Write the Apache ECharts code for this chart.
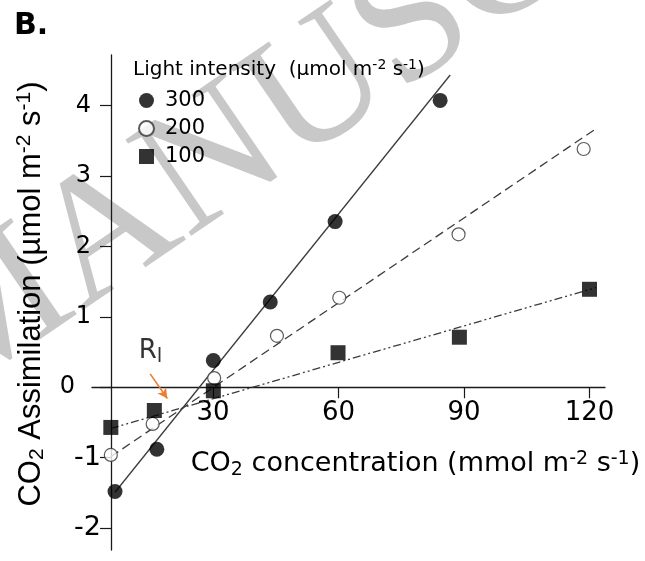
<!DOCTYPE html>
<html><head><meta charset="utf-8">
<script src="https://cdn.jsdelivr.net/npm/echarts@6/dist/echarts.min.js"></script>
<style>html,body{margin:0;padding:0;background:#fff}#c{width:645px;height:561px}</style>
</head><body><div id="c"></div>
<script>
// ---- data ----
const legendNames = ['300', '200', '100'];
const co2_300 = [6.6, 16.6, 30.1, 43.7, 59.2, 84.3];
const asm_300 = [-1.48, -0.88, 0.38, 1.21, 2.35, 4.07];
const co2_200 = [5.6, 15.6, 30.3, 45.3, 60.2, 88.7, 118.6];
const asm_200 = [-0.96, -0.52, 0.13, 0.73, 1.27, 2.17, 3.38];
const co2_100 = [5.6, 16.0, 30.1, 59.9, 88.9, 120.0];
const asm_100 = [-0.57, -0.33, -0.05, 0.49, 0.71, 1.39];
// regression lines (end points)
const fit_300 = [[6.6, -1.49], [86.7, 4.43]];
const fit_200 = [[5.6, -0.985], [121.1, 3.65]];
const fit_100 = [[5.6, -0.585], [121.6, 1.415]];
// R_l annotation
const rlLabelPos = [15.1, 0.51];
const rlArrow = [[15.0, 0.19], [19.1, -0.16]];
const xTicks = [30, 60, 90, 120];
const yTicks = [-2, -1, 0, 1, 2, 3, 4];

const zip = (xs, ys) => xs.map((x, i) => [x, ys[i]]);
const F = 'DejaVu Sans';
const FL = 'Liberation Sans';
const lineColor = '#3c3c3c';
const yMin = -2.309, yMax = 4.714;
const gridTop = 55, gridBottom = 11, H = 561;
// put the x axis line at y = 0 of the y scale
const plotH = H - gridTop - gridBottom;
const xAxisOffset = -plotH * (0 - yMin) / (yMax - yMin);

const chart = echarts.init(document.getElementById('c'), null, {renderer: 'canvas'});
chart.setOption({
  animation: false,
  backgroundColor: '#fff',
  graphic: [{
    type: 'text', x: -76, y: 362, rotation: 0.6, z: -10, silent: true,
    style: {text: 'MANUSCRIPT', fontFamily: 'Liberation Serif', fontSize: 178,
            fill: '#c8c8c8', textAlign: 'left', textVerticalAlign: 'middle'}
  }],
  title: [
    {text: 'B.', left: 14, top: 11, padding: 0,
     textStyle: {fontFamily: F, fontWeight: 'bold', fontSize: 30, lineHeight: 30, color: '#000'}},
    {text: 'Light intensity  (µmol m{sup|-2} s{sup|-1})', left: 133, top: 58, padding: 0,
     textStyle: {fontFamily: F, fontWeight: 'normal', fontSize: 20, lineHeight: 24, color: '#000',
       rich: {sup: {fontFamily: F, fontSize: 14, lineHeight: 13, verticalAlign: 'top', color: '#000'}}}}
  ],
  legend: {
    data: [
      {name: '300', icon: 'circle'},
      {name: '200', icon: 'circle'},
      {name: '100', icon: 'rect'}
    ],
    orient: 'vertical', left: 138, top: 90, padding: 0,
    itemWidth: 15, itemHeight: 15, itemGap: 7,
    textStyle: {fontFamily: F, fontSize: 21, lineHeight: 21, color: '#000', padding: [0, 0, 0, 6]}
  },
  grid: {left: 92, right: 40, top: gridTop, bottom: gridBottom, containLabel: false, outerBoundsMode: 'none'},
  xAxis: {
    type: 'value', min: 1.1, max: 123.7, position: 'bottom', offset: xAxisOffset,
    name: 'CO{sub|2} concentration (mmol m{sup|-2} s{sup|-1})',
    nameLocation: 'middle', nameGap: 62,
    nameTextStyle: {fontFamily: F, fontSize: 27, lineHeight: 30, color: '#000', padding: [0, 0, 0, 134],
      rich: {sub: {fontFamily: F, fontSize: 19, lineHeight: 18, verticalAlign: 'bottom', color: '#000'},
             sup: {fontFamily: F, fontSize: 19, lineHeight: 16, verticalAlign: 'top', color: '#000'}}},
    axisLine: {onZero: false, lineStyle: {color: '#1a1a1a', width: 1.3}},
    axisTick: {show: true, length: 11, customValues: xTicks, lineStyle: {color: '#1a1a1a', width: 1.2}},
    axisLabel: {show: true, customValues: xTicks, margin: 13, fontFamily: F, fontSize: 26, color: '#000'},
    splitLine: {show: false}
  },
  yAxis: {
    type: 'value', min: yMin, max: yMax, offset: -19,
    name: 'CO{sub|2} Assimilation (µmol m{sup|-2} s{sup|-1})',
    nameLocation: 'middle', nameGap: 63, nameRotate: 90,
    nameTextStyle: {fontFamily: FL, fontSize: 31, lineHeight: 34, color: '#000', padding: [0, 0, 0, 17],
      rich: {sub: {fontFamily: FL, fontSize: 21, lineHeight: 20, verticalAlign: 'bottom', color: '#000'},
             sup: {fontFamily: FL, fontSize: 21, lineHeight: 18, verticalAlign: 'top', color: '#000'}}},
    axisLine: {show: true, onZero: false, lineStyle: {color: '#1a1a1a', width: 1.3}},
    axisTick: {show: true, length: 11, customValues: yTicks, lineStyle: {color: '#1a1a1a', width: 1.2}},
    axisLabel: {customValues: yTicks, margin: 10, color: '#000',
      formatter: v => v > 0 ? '{p|' + v + '}' : (v === 0 ? '{z|0}' : '{n|' + v + '}'),
      rich: {
        p: {fontFamily: F, fontSize: 24, color: '#000', padding: [0, 10, 0, 0]},
        z: {fontFamily: F, fontSize: 24, color: '#000', padding: [0, 26, 0, 0]},
        n: {fontFamily: F, fontSize: 27, color: '#000', padding: [0, 0, 0, 0]}
      }},
    splitLine: {show: false}
  },
  series: [
    {name: 'fit 300', type: 'line', data: fit_300, symbol: 'none', z: 2,
     lineStyle: {color: lineColor, width: 1.3, type: 'solid'}},
    {name: 'fit 200', type: 'line', data: fit_200, symbol: 'none', z: 2,
     lineStyle: {color: lineColor, width: 1.3, type: [9, 5]}},
    {name: 'fit 100', type: 'line', data: fit_100, symbol: 'none', z: 2,
     lineStyle: {color: lineColor, width: 1.3, type: [8, 3, 2, 3, 2, 3]}},
    {name: '300', type: 'scatter', data: zip(co2_300, asm_300), symbol: 'circle', symbolSize: 15, z: 5,
     itemStyle: {color: '#000'}},
    {name: '200', type: 'scatter', data: zip(co2_200, asm_200), symbol: 'circle', symbolSize: 13, z: 5,
     itemStyle: {color: '#fff', borderColor: '#333', borderWidth: 1.2}},
    {name: '100', type: 'scatter', data: zip(co2_100, asm_100), symbol: 'rect', symbolSize: 15, z: 5,
     itemStyle: {color: '#000'}},
    {name: 'Rl', type: 'scatter', data: [rlLabelPos], symbolSize: 0, z: 6, silent: true,
     label: {show: true, position: 'inside', formatter: 'R{s|l}', fontFamily: F, fontSize: 26, lineHeight: 30, color: '#000',
       rich: {s: {fontFamily: F, fontSize: 20, lineHeight: 16, verticalAlign: 'bottom', color: '#000'}}},
     markLine: {silent: true, symbol: ['none', 'arrow'], symbolSize: [8, 10], animation: false,
       label: {show: false},
       lineStyle: {color: '#ED7D31', width: 1.6, type: 'solid'},
       data: [[{coord: rlArrow[0]}, {coord: rlArrow[1]}]]}}
  ]
});
</script></body></html>
